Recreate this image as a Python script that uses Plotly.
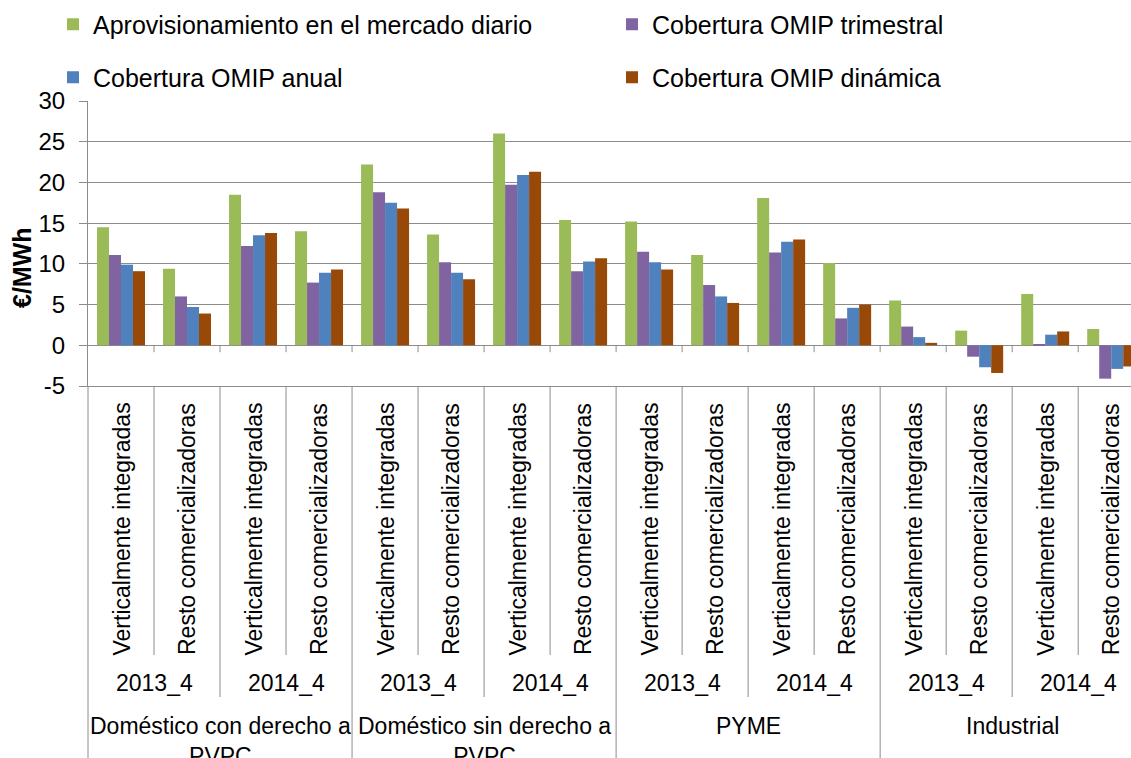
import plotly.graph_objects as go

# ---------------- data ----------------
segments = ["Doméstico con derecho a<br>PVPC", "Doméstico sin derecho a<br>PVPC", "PYME", "Industrial"]
years = ["2013_4", "2014_4"]
companies = ["Verticalmente integradas", "Resto comercializadoras"]

series_names = [
    "Aprovisionamiento en el mercado diario",
    "Cobertura OMIP trimestral",
    "Cobertura OMIP anual",
    "Cobertura OMIP dinámica",
]
aprovisionamiento = [14.5, 9.4, 18.5, 14.0, 22.2, 13.6, 26.0, 15.4, 15.2, 11.1, 18.1, 10.1, 5.5, 1.8, 6.3, 2.0]
trimestral = [11.1, 6.0, 12.2, 7.7, 18.8, 10.2, 19.7, 9.1, 11.5, 7.4, 11.4, 3.3, 2.3, -1.4, 0.1, -4.1]
anual = [9.9, 4.7, 13.5, 8.9, 17.5, 8.9, 20.9, 10.3, 10.2, 6.0, 12.7, 4.6, 1.0, -2.7, 1.3, -2.9]
dinamica = [9.1, 3.9, 13.8, 9.3, 16.8, 8.1, 21.3, 10.7, 9.3, 5.2, 13.0, 5.0, 0.3, -3.4, 1.7, -2.6]
colors = ["#9BBB59", "#8064A2", "#4F81BD", "#984807"]

y_ticks = [-5, 0, 5, 10, 15, 20, 25, 30]
y_ticktext = ["-5", "0", "5", "10", "15", "20", "25", "30"]

# ---------------- build ----------------
n_comp = len(companies)
n_year = len(years)
n_cat = len(segments) * n_year * n_comp
xs = list(range(n_cat))

GRID = "#8c8c8c"
FONT = "Liberation Sans, Arial, sans-serif"

# plot-area pixel geometry helpers
PLOT_TOP, PLOT_BOT = 101, 386
PH = PLOT_BOT - PLOT_TOP
PLOT_L, PW = 88, 1131 - 88


def py(p):
    return (PLOT_BOT - p) / PH


def px(p):
    return (p - PLOT_L) / PW


fig = go.Figure()
values = [aprovisionamiento, trimestral, anual, dinamica]
legend_ids = ["legend", "legend2", "legend3", "legend4"]
for name, vals, col, lg in zip(series_names, values, colors, legend_ids):
    fig.add_trace(go.Bar(x=xs, y=vals, name=name, marker=dict(color=col, line=dict(width=0)),
                         legend=lg, showlegend=True))

shapes = []
annotations = []

# separators below the plot and tick marks on the zero line
for k in range(n_cat - 1):
    xb = k + 0.5
    if (k + 1) % (n_comp * n_year) == 0:
        ybot = py(760)
    elif (k + 1) % n_comp == 0:
        ybot = py(697)
    else:
        ybot = py(655)
    shapes.append(dict(type="line", xref="x", yref="paper", x0=xb, x1=xb, y0=0, y1=ybot,
                       line=dict(color=GRID, width=1)))
    shapes.append(dict(type="line", xref="x", yref="y", x0=xb, x1=xb, y0=0, y1=-0.85,
                       line=dict(color=GRID, width=1)))

# left frame line extending below the plot
shapes.append(dict(type="line", xref="paper", yref="paper", x0=0, x1=0, y0=0, y1=py(760),
                   line=dict(color=GRID, width=1)))

# level-1 labels
for k in range(n_cat):
    annotations.append(dict(x=xs[k], y=py(401), xref="x", yref="paper", text=companies[k % n_comp],
                            textangle=-90, showarrow=False, xanchor="center", yanchor="top",
                            font=dict(size=23, family=FONT, color="black")))
# level-2 labels
for g in range(len(segments) * n_year):
    xc = g * n_comp + (n_comp - 1) / 2
    annotations.append(dict(x=xc, y=py(683), xref="x", yref="paper", text=years[g % n_year],
                            showarrow=False, xanchor="center", yanchor="middle",
                            font=dict(size=23, family=FONT, color="black")))
# level-3 labels
for s, seg in enumerate(segments):
    xc = s * n_comp * n_year + (n_comp * n_year - 1) / 2
    annotations.append(dict(x=xc, y=py(711), xref="x", yref="paper", text=seg,
                            showarrow=False, xanchor="center", yanchor="top",
                            font=dict(size=23, family=FONT, color="black")))

# y-axis title
annotations.append(dict(x=px(22), y=py(268), xref="paper", yref="paper", text="<b>€/MWh</b>",
                        textangle=-90, showarrow=False, xanchor="center", yanchor="middle",
                        font=dict(size=25, family=FONT, color="black")))

legend_style = dict(orientation="h", xanchor="left", yanchor="middle",
                    font=dict(size=25, family=FONT, color="black"), bgcolor="rgba(0,0,0,0)")
LEG_X = [53, 612, 53, 612]
LEG_Y = [24.5, 24.5, 77.5, 77.5]

fig.update_layout(
    width=1131, height=758,
    margin=dict(l=88, r=0, t=101, b=372, pad=0, autoexpand=False),
    paper_bgcolor="white", plot_bgcolor="white",
    showlegend=True,
    barmode="group", bargap=0.273, bargroupgap=0,
    font=dict(family=FONT, size=23, color="black"),
    shapes=shapes, annotations=annotations,
    legend=dict(x=px(LEG_X[0]), y=py(LEG_Y[0]), **legend_style),
    legend2=dict(x=px(LEG_X[1]), y=py(LEG_Y[1]), **legend_style),
    legend3=dict(x=px(LEG_X[2]), y=py(LEG_Y[2]), **legend_style),
    legend4=dict(x=px(LEG_X[3]), y=py(LEG_Y[3]), **legend_style),
    xaxis=dict(range=[-0.5, 15.3], showticklabels=False, showgrid=False, zeroline=False,
               showline=True, linecolor=GRID, linewidth=1, ticks=""),
    yaxis=dict(range=[-5, 30], tickvals=y_ticks, ticktext=y_ticktext, showgrid=True,
               gridcolor=GRID, gridwidth=1,
               zeroline=True, zerolinecolor=GRID, zerolinewidth=1,
               showline=True, linecolor=GRID, linewidth=1,
               ticks="outside", ticklen=8, tickcolor=GRID, tickwidth=1,
               tickfont=dict(size=24, family=FONT, color="black"), ticklabelstandoff=9),
)

fig.write_html("out.html", config={"displayModeBar": False},
               post_script="document.body.style.margin='0';document.body.style.overflow='hidden';")
